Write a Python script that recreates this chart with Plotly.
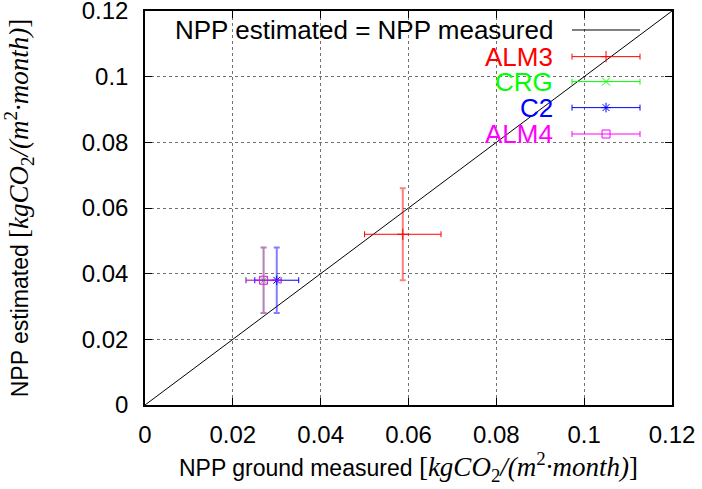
import plotly.graph_objects as go

# ---- data ----
series_names = ["ALM3", "CRG", "C2", "ALM4"]
series_colors = ["#ff0000", "#00ff00", "#0000ff", "#ff00ff"]
series_yerr_colors = ["rgba(255,0,0,0.5)", "rgba(0,255,0,0.5)", "rgba(0,0,255,0.5)", "rgba(255,0,255,0.5)"]
series_symbols = ["cross-thin-open", "x-thin-open", "asterisk-open", "square-open"]
ground_measured = [0.0587, 0.027, 0.030, 0.027]
ground_err = [0.0087, 0.004, 0.005, 0.004]
npp_estimated = [0.052, 0.038, 0.038, 0.038]
estimated_err = [0.014, 0.010, 0.010, 0.010]
identity_x = [0, 0.12]
identity_y = [0, 0.12]
tick_vals = [0, 0.02, 0.04, 0.06, 0.08, 0.1, 0.12]
tick_text = ["0", "0.02", "0.04", "0.06", "0.08", "0.1", "0.12"]
identity_name = "NPP estimated = NPP measured"

FONT = "Liberation Sans, Arial, sans-serif"
SERIF = "Liberation Serif, Times New Roman, serif"
FS = 24
KEY_FS = 26
TITLE_FS = 23

unit = ('<span style="font-family:%s;font-size:27px">[<i>kgCO</i><sub>2</sub><i>/(m</i><sup>2</sup>'
        '<i>·month)</i>]</span>' % SERIF)

fig = go.Figure()

# identity line
fig.add_trace(go.Scatter(x=identity_x, y=identity_y, mode="lines",
                         line=dict(color="black", width=1), showlegend=False,
                         hoverinfo="skip"))

for name, c, ce, sym, x, xe, y, ye in zip(series_names, series_colors, series_yerr_colors,
                                          series_symbols, ground_measured, ground_err,
                                          npp_estimated, estimated_err):
    fig.add_trace(go.Scatter(
        x=[x], y=[y], mode="markers", name=name, showlegend=False,
        marker=dict(symbol=sym, size=8, color=c, line=dict(color=c, width=1)),
        error_x=dict(type="data", array=[xe], color=c, thickness=1, width=3),
        error_y=dict(type="data", array=[ye], color=ce, thickness=2, width=3),
    ))

# ---- key (gnuplot style: right-aligned text, sample on the right) ----
key_x = 0.8748
key_half = 0.0645
key_rows = [0.9518, 0.8842, 0.8208, 0.7548, 0.6878]
key_text_x = 0.778

fig.add_trace(go.Scatter(x=[key_x - key_half, key_x + key_half], y=[key_rows[0]] * 2,
                         mode="lines", line=dict(color="black", width=1),
                         xaxis="x2", yaxis="y2", showlegend=False, hoverinfo="skip"))
for i, (c, sym) in enumerate(zip(series_colors, series_symbols)):
    fig.add_trace(go.Scatter(
        x=[key_x], y=[key_rows[i + 1]], mode="markers", xaxis="x2", yaxis="y2",
        showlegend=False, hoverinfo="skip",
        marker=dict(symbol=sym, size=8, color=c, line=dict(color=c, width=1)),
        error_x=dict(type="constant", value=key_half, color=c, thickness=1, width=3),
    ))

annotations = [dict(xref="paper", yref="paper", x=key_text_x, y=key_rows[0], text=identity_name,
                    showarrow=False, xanchor="right", yanchor="middle",
                    font=dict(family=FONT, size=KEY_FS, color="black"))]
for i, (n, c) in enumerate(zip(series_names, series_colors)):
    annotations.append(dict(xref="paper", yref="paper", x=key_text_x, y=key_rows[i + 1], text=n,
                            showarrow=False, xanchor="right", yanchor="middle",
                            font=dict(family=FONT, size=KEY_FS, color=c)))

axis_common = dict(
    range=[0, 0.12], tickvals=tick_vals, ticktext=tick_text,
    showgrid=True, gridcolor="#707070", griddash="dot", gridwidth=1,
    showline=True, linecolor="black", linewidth=1.5, mirror="ticks",
    ticks="inside", ticklen=7, tickcolor="black", tickwidth=1,
    zeroline=False, tickfont=dict(family=FONT, size=FS, color="black"),
    fixedrange=True, automargin=False, ticklabeloverflow="allow",
)

fig.update_layout(
    width=702, height=489,
    margin=dict(l=145, r=30, t=11, b=84),
    paper_bgcolor="white", plot_bgcolor="white",
    font=dict(family=FONT, size=FS, color="black"),
    xaxis=dict(**axis_common,
               title=dict(text="NPP ground measured " + unit, standoff=6,
                          font=dict(family=FONT, size=TITLE_FS, color="black")),
               ticklabelstandoff=7),
    yaxis=dict(**axis_common,
               title=dict(text="NPP estimated " + unit, standoff=47,
                          font=dict(family=FONT, size=TITLE_FS, color="black")),
               ticklabelstandoff=10),
    xaxis2=dict(overlaying="x", range=[0, 1], visible=False, fixedrange=True),
    yaxis2=dict(overlaying="y", range=[0, 1], visible=False, fixedrange=True),
    shapes=[dict(type="rect", xref="paper", yref="paper", x0=0, x1=0.968, y0=0.645, y1=1,
                 fillcolor="white", line=dict(width=0), layer="between")],
    annotations=annotations,
    showlegend=False,
)

fig.write_html("out.html", config={"displayModeBar": False},
               post_script="document.body.style.margin='0';")
